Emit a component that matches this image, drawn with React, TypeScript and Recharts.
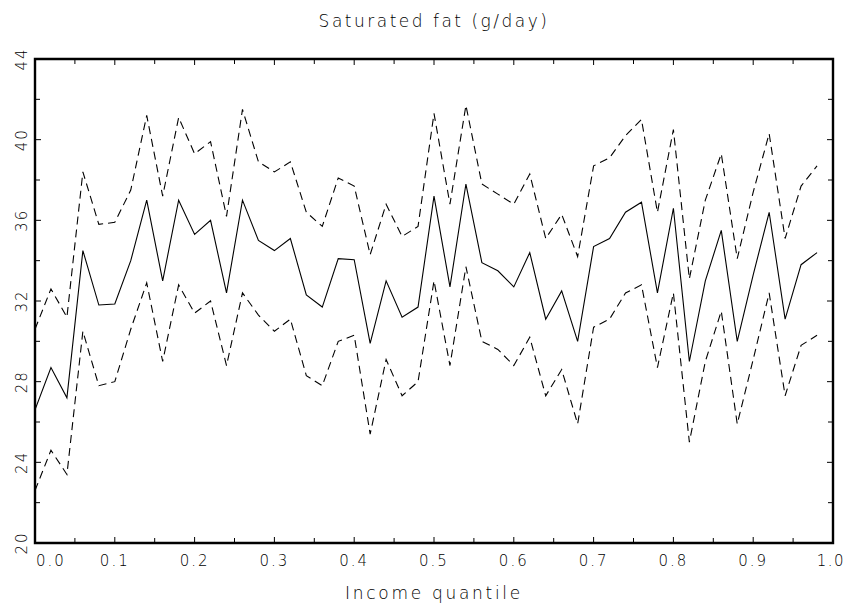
import { LineChart, Line, XAxis, YAxis, ReferenceArea } from 'recharts';

const quantiles = [
  0.0, 0.02, 0.04, 0.06, 0.08, 0.1, 0.12, 0.14, 0.16, 0.18,
  0.2, 0.22, 0.24, 0.26, 0.28, 0.3, 0.32, 0.34, 0.36, 0.38,
  0.4, 0.42, 0.44, 0.46, 0.48, 0.5, 0.52, 0.54, 0.56, 0.58,
  0.6, 0.62, 0.64, 0.66, 0.68, 0.7, 0.72, 0.74, 0.76, 0.78,
  0.8, 0.82, 0.84, 0.86, 0.88, 0.9, 0.92, 0.94, 0.96, 0.98,
];

const mean = [
  26.6, 28.7, 27.2, 34.5, 31.8, 31.85, 34.0, 37.0, 33.0, 37.0,
  35.3, 36.0, 32.4, 37.0, 35.0, 34.5, 35.1, 32.3, 31.7, 34.1,
  34.05, 29.9, 33.0, 31.2, 31.7, 37.2, 32.7, 37.8, 33.9, 33.5,
  32.7, 34.4, 31.1, 32.5, 30.0, 34.7, 35.1, 36.4, 36.9, 32.4,
  36.6, 29.0, 33.0, 35.5, 30.0, 33.3, 36.4, 31.1, 33.8, 34.4,
];

const upper = [
  30.6, 32.6, 31.2, 38.4, 35.8, 35.9, 37.5, 41.2, 37.2, 41.1,
  39.3, 39.9, 36.2, 41.5, 38.9, 38.4, 38.9, 36.4, 35.7, 38.1,
  37.7, 34.3, 36.8, 35.2, 35.7, 41.3, 36.8, 41.7, 37.8, 37.3,
  36.8, 38.3, 35.1, 36.3, 34.2, 38.7, 39.1, 40.2, 41.0, 36.4,
  40.5, 33.1, 37.0, 39.3, 34.1, 37.4, 40.3, 35.1, 37.7, 38.7,
];

const lower = [
  22.6, 24.6, 23.4, 30.5, 27.8, 28.0, 30.6, 32.9, 29.0, 32.8,
  31.4, 32.0, 28.8, 32.4, 31.3, 30.5, 31.1, 28.3, 27.8, 30.0,
  30.3, 25.4, 29.1, 27.3, 28.0, 33.0, 28.8, 33.7, 30.0, 29.6,
  28.8, 30.2, 27.3, 28.6, 25.9, 30.7, 31.1, 32.4, 32.8, 28.7,
  32.4, 25.0, 29.0, 31.5, 25.9, 29.1, 32.4, 27.3, 29.8, 30.3,
];

const xTicks = [
  0, 0.05, 0.1, 0.15, 0.2, 0.25, 0.3, 0.35, 0.4, 0.45, 0.5,
  0.55, 0.6, 0.65, 0.7, 0.75, 0.8, 0.85, 0.9, 0.95, 1.0,
];
const yTicks = [20, 22, 24, 26, 28, 30, 32, 34, 36, 38, 40, 42, 44];

const data = quantiles.map((q, i) => ({
  q,
  mean: mean[i],
  upper: upper[i],
  lower: lower[i],
}));

const W = 846;
const H = 608;
const LEFT = 35;
const RIGHT = 833;
const TOP = 59;
const BOTTOM = 543;
const FONT = '"DejaVu Sans", sans-serif';

// IDL-style inward ticks on both sides, labels only on the major ones
function renderXTick(props: any) {
  const { payload } = props;
  const x = payload.coordinate as number;
  const v = payload.value as number;
  const major = Math.round(v * 100) % 10 === 0;
  const len = major ? 6 : 5;
  let anchor = 'middle';
  let tx = x;
  if (v === 0) {
    anchor = 'start';
    tx = x + 1;
  } else if (v === 1) {
    anchor = 'end';
    tx = x + 12;
  }
  return (
    <g key={`xt-${v}`}>
      <line x1={x} x2={x} y1={BOTTOM} y2={BOTTOM - len} stroke="#000" strokeWidth={1} />
      <line x1={x} x2={x} y1={TOP} y2={TOP + len} stroke="#000" strokeWidth={1} />
      {major && (
        <text
          x={tx}
          y={566}
          textAnchor={anchor}
          fontFamily={FONT}
          fontWeight={300}
          fontSize={15}
          letterSpacing={v === 1 ? 1.5 : 2}
          fill="#000"
        >
          {v.toFixed(1)}
        </text>
      )}
    </g>
  );
}

function renderYTick(props: any) {
  const { payload } = props;
  const y = payload.coordinate as number;
  const v = payload.value as number;
  const major = v % 4 === 0;
  const len = major ? 6 : 5;
  return (
    <g key={`yt-${v}`}>
      <line x1={LEFT} x2={LEFT + len} y1={y} y2={y} stroke="#000" strokeWidth={1} />
      <line x1={RIGHT} x2={RIGHT - len} y1={y} y2={y} stroke="#000" strokeWidth={1} />
      {major && (
        <text
          x={27}
          y={y}
          transform={`rotate(-90, 27, ${y})`}
          textAnchor="middle"
          fontFamily={FONT}
          fontWeight={300}
          fontSize={15}
          letterSpacing={2}
          fill="#000"
        >
          {v}
        </text>
      )}
    </g>
  );
}

export default function App() {
  return (
    <div style={{ position: 'absolute', left: 0, top: 0, width: W, height: H, background: '#fff' }}>
      <div
        style={{
          position: 'absolute',
          left: LEFT,
          width: RIGHT - LEFT,
          top: 11,
          textAlign: 'center',
          fontFamily: FONT,
          fontWeight: 300,
          fontSize: 17,
          letterSpacing: 2.5,
          lineHeight: '20px',
        }}
      >
        Saturated fat (g/day)
      </div>
      <div
        style={{
          position: 'absolute',
          left: LEFT,
          width: RIGHT - LEFT,
          top: 583,
          textAlign: 'center',
          fontFamily: FONT,
          fontWeight: 300,
          fontSize: 17,
          letterSpacing: 2.7,
          lineHeight: '20px',
        }}
      >
        Income quantile
      </div>
      <LineChart
        width={W}
        height={H}
        data={data}
        margin={{ top: TOP, right: W - RIGHT, bottom: H - BOTTOM - 10, left: LEFT - 10 }}
      >
        <XAxis
          dataKey="q"
          type="number"
          domain={[0, 1]}
          ticks={xTicks}
          interval={0}
          height={10}
          axisLine={false}
          tickLine={false}
          tick={renderXTick}
          allowDataOverflow
        />
        <YAxis
          type="number"
          domain={[20, 44]}
          ticks={yTicks}
          interval={0}
          width={10}
          axisLine={false}
          tickLine={false}
          tick={renderYTick}
          allowDataOverflow
        />
        <ReferenceArea
          x1={0}
          x2={1}
          y1={20}
          y2={44}
          fill="none"
          fillOpacity={0}
          stroke="#000"
          strokeWidth={2.4}
          ifOverflow="visible"
        />
        <Line
          type="linear"
          dataKey="upper"
          stroke="#000"
          strokeWidth={1.1}
          strokeDasharray="8 5"
          dot={false}
          isAnimationActive={false}
        />
        <Line
          type="linear"
          dataKey="mean"
          stroke="#000"
          strokeWidth={1.1}
          dot={false}
          isAnimationActive={false}
        />
        <Line
          type="linear"
          dataKey="lower"
          stroke="#000"
          strokeWidth={1.1}
          strokeDasharray="8 5"
          dot={false}
          isAnimationActive={false}
        />
      </LineChart>
    </div>
  );
}
